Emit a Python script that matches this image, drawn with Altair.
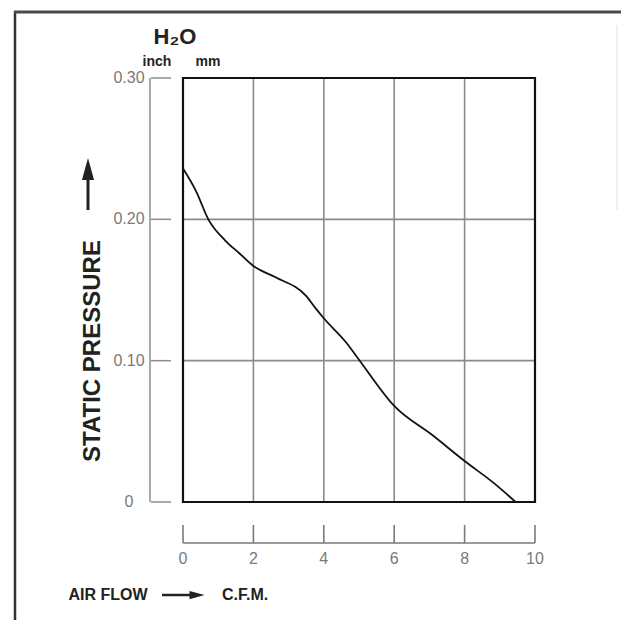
import altair as alt
import pandas as pd

# ---- data ----
flow = [0.0, 0.37, 0.72, 1.2, 1.6, 2.0, 2.63, 3.49, 3.77, 4.0, 4.63, 5.02, 6.0, 7.1, 8.0, 8.85, 9.45]
pressure = [0.236, 0.220, 0.200, 0.185, 0.176, 0.167, 0.159, 0.146, 0.137, 0.130, 0.113, 0.100, 0.068, 0.047, 0.029, 0.013, 0.0]

y_ticks = [0.0, 0.10, 0.20, 0.30]
y_labels = ["0", "0.10", "0.20", "0.30"]
x_ticks = [0, 2, 4, 6, 8, 10]
x_labels = ["0", "2", "4", "6", "8", "10"]
x_grid = [2, 4, 6, 8]
y_grid = [0.10, 0.20]

W, H = 352, 424
FONT = "Liberation Sans"

x_scale = alt.Scale(domain=[0, 10], nice=False, zero=False)
y_scale = alt.Scale(domain=[0, 0.30], nice=False, zero=False)

curve_df = pd.DataFrame({"flow": flow, "p": pressure})
one = pd.DataFrame({"a": [0]})

# ---- grid lines ----
vgrid = alt.Chart(pd.DataFrame({"v": x_grid})).mark_rule(color="#8a8a8a", strokeWidth=1.6).encode(
    x=alt.X("v:Q", scale=x_scale, axis=None),
    y=alt.value(0), y2=alt.value(H),
)
hgrid = alt.Chart(pd.DataFrame({"v": y_grid})).mark_rule(color="#8a8a8a", strokeWidth=1.6).encode(
    y=alt.Y("v:Q", scale=y_scale, axis=None),
    x=alt.value(0), x2=alt.value(W),
)

curve = alt.Chart(curve_df).mark_line(
    color="#111111", strokeWidth=1.8, interpolate="monotone"
).encode(
    x=alt.X("flow:Q", scale=x_scale, axis=None),
    y=alt.Y("p:Q", scale=y_scale, axis=None),
)

# ---- plot box ----
box = alt.Chart(one).mark_rect(fill=None, stroke="#111111", strokeWidth=2.2).encode(
    x=alt.value(0), x2=alt.value(W), y=alt.value(0), y2=alt.value(H))

# ---- manual y axis (offset, ticks pointing inward) ----
yt_df = pd.DataFrame({"v": y_ticks, "lab": y_labels})
yr_df = pd.DataFrame({"lo": [min(y_ticks)], "hi": [max(y_ticks)]})

y_line = alt.Chart(yr_df).mark_rule(color="#8c8c8c", strokeWidth=1.5).encode(
    x=alt.value(-33),
    y=alt.Y("lo:Q", scale=y_scale, axis=None),
    y2="hi:Q",
)
y_tk = alt.Chart(yt_df).mark_rule(color="#8c8c8c", strokeWidth=1.5).encode(
    y=alt.Y("v:Q", scale=y_scale, axis=None),
    x=alt.value(-32), x2=alt.value(-12),
)
y_lab = alt.Chart(yt_df).mark_text(
    font=FONT, fontSize=16, color="#7a7a7a", align="center", baseline="middle"
).encode(
    y=alt.Y("v:Q", scale=y_scale, axis=None),
    x=alt.value(-54),
    text="lab:N",
)

# ---- manual x axis (offset below, ticks pointing up) ----
xt_df = pd.DataFrame({"v": x_ticks, "lab": x_labels})
xr_df = pd.DataFrame({"lo": [min(x_ticks)], "hi": [max(x_ticks)]})

x_line = alt.Chart(xr_df).mark_rule(color="#7a7a7a", strokeWidth=1.6).encode(
    y=alt.value(465),
    x=alt.X("lo:Q", scale=x_scale, axis=None),
    x2="hi:Q",
)
x_tk = alt.Chart(xt_df).mark_rule(color="#7a7a7a", strokeWidth=1.6).encode(
    x=alt.X("v:Q", scale=x_scale, axis=None),
    y=alt.value(447), y2=alt.value(465),
)
x_lab = alt.Chart(xt_df).mark_text(
    font=FONT, fontSize=16, color="#7a7a7a", align="center", baseline="middle"
).encode(
    x=alt.X("v:Q", scale=x_scale, axis=None),
    y=alt.value(481),
    text="lab:N",
)

# ---- outer frame ----
frame_left = alt.Chart(one).mark_rule(color="#333333", strokeWidth=2.5).encode(
    x=alt.value(-168), y=alt.value(-67), y2=alt.value(560))
frame_top = alt.Chart(one).mark_rule(color="#4a4a4a", strokeWidth=3).encode(
    y=alt.value(-66), x=alt.value(-169), x2=alt.value(440))
frame_right = alt.Chart(one).mark_rule(color="#e2e2e2", strokeWidth=1).encode(
    x=alt.value(434), y=alt.value(-53), y2=alt.value(132))


def label(txt, x, y, size, weight="bold", align="center", color="#222222", angle=0):
    kw = dict(text=txt, font=FONT, fontSize=size, fontWeight=weight,
              align=align, baseline="middle", color=color)
    if angle:
        kw["angle"] = angle
    return alt.Chart(one).mark_text(**kw).encode(x=alt.value(x), y=alt.value(y))


h2o = label("H₂O", -8, -41, 22)
inch = label("inch", -26, -16, 14)
mm = label("mm", 25, -16, 14)
ytitle = label("STATIC PRESSURE", -90, 273, 24, angle=270)
air = label("AIR FLOW", -75, 517, 16)
cfm = label("C.F.M.", 39, 517, 16, align="left")

# arrows
up_shaft = alt.Chart(one).mark_rule(color="#222222", strokeWidth=3).encode(
    x=alt.value(-95), y=alt.value(100), y2=alt.value(132))
up_head = alt.Chart(one).mark_point(
    shape="M-0.55,1L0,-1L0.55,1Z", filled=True, size=484, color="#222222", opacity=1
).encode(x=alt.value(-95), y=alt.value(91))

right_shaft = alt.Chart(one).mark_rule(color="#222222", strokeWidth=2.5).encode(
    y=alt.value(517), x=alt.value(-21), x2=alt.value(9))
right_head = alt.Chart(one).mark_point(
    shape="M-1,-0.55L1,0L-1,0.55Z", filled=True, size=225, color="#222222", opacity=1
).encode(x=alt.value(14), y=alt.value(517))

chart = alt.layer(
    frame_left, frame_top, frame_right,
    vgrid, hgrid, box, curve,
    y_line, y_tk, y_lab,
    x_line, x_tk, x_lab,
    h2o, inch, mm, ytitle, air, cfm,
    up_shaft, up_head, right_shaft, right_head,
).properties(
    width=W, height=H,
    autosize=alt.AutoSizeParams(type="none"),
    padding={"left": 175, "top": 70, "right": 86, "bottom": 118},
    background="white",
).configure_view(
    stroke=None
)

chart.save("out.html", embed_options={"renderer": "svg", "actions": False})
